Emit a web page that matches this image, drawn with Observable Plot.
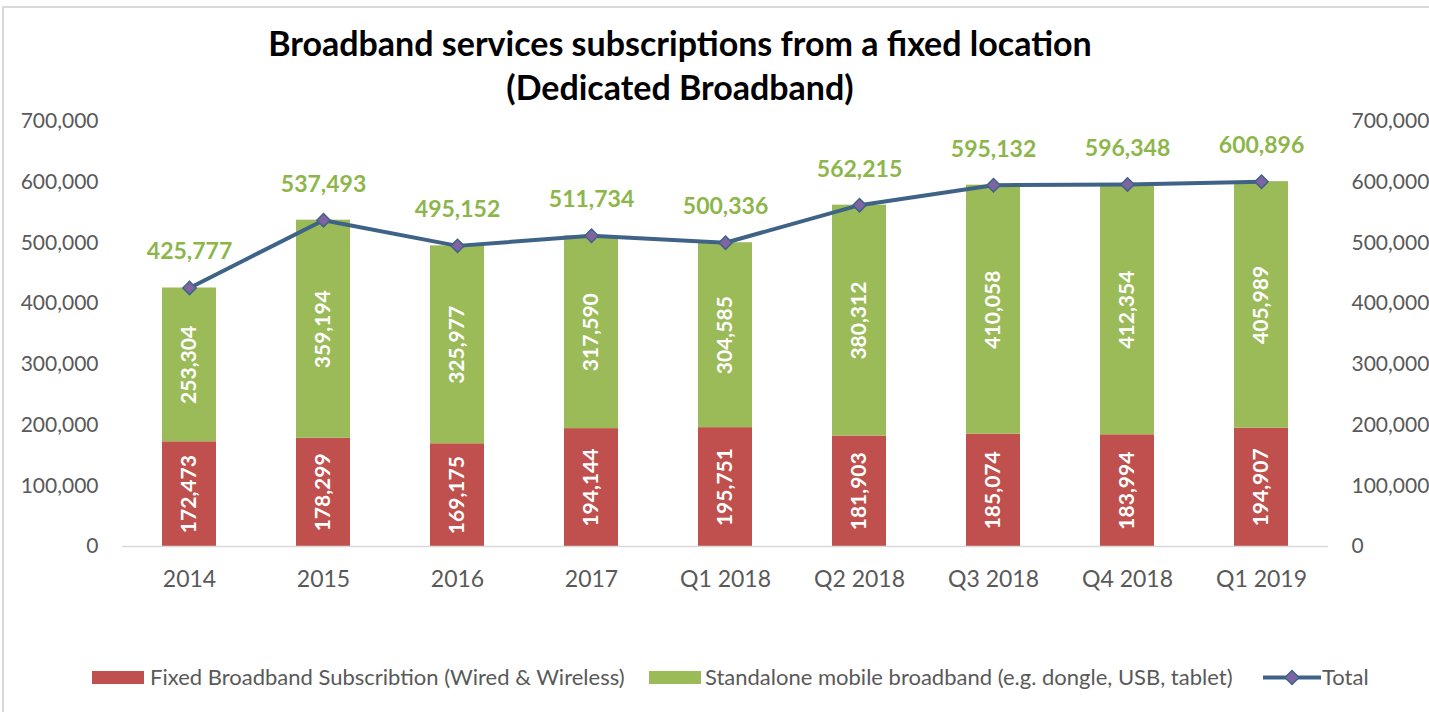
<!DOCTYPE html>
<html>
<head>
<meta charset="utf-8">
<script src="https://cdn.jsdelivr.net/npm/d3@7"></script>
<script src="https://cdn.jsdelivr.net/npm/@observablehq/plot@0.6"></script>
<style>
  html, body { margin: 0; padding: 0; background: #fff; }
  #wrap { position: relative; width: 1429px; height: 712px; overflow: hidden; font-family: Lato, "Open Sans", sans-serif; }
  #frame { position: absolute; left: 2px; top: 6px; width: 1440px; height: 720px; border-left: 2px solid #d9d9d9; border-top: 2px solid #d9d9d9; }
  #title { position: absolute; left: 0; top: 21px; width: 1360px; text-align: center; font-weight: bold; font-size: 34px; line-height: 44px; color: #000; }
  #chart { position: absolute; left: 0; top: 104px; }
  #legend { position: absolute; left: 0; top: 664px; width: 1429px; height: 26px; font-size: 22px; color: #595959; }
  .sw { position: absolute; top: 7px; height: 13px; }
  .lt { position: absolute; top: 0; line-height: 26px; white-space: nowrap; }
</style>
</head>
<body>
<div id="wrap">
  <div id="frame"></div>
  <div id="title">Broadband services subscriptions from a fixed location<br>(Dedicated Broadband)</div>
  <div id="chart"></div>
  <div id="legend"></div>
</div>
<script>
const categories = ["2014", "2015", "2016", "2017", "Q1 2018", "Q2 2018", "Q3 2018", "Q4 2018", "Q1 2019"];
const fixedBroadband = [172473, 178299, 169175, 194144, 195751, 181903, 185074, 183994, 194907];
const mobileBroadband = [253304, 359194, 325977, 317590, 304585, 380312, 410058, 412354, 405989];
const totals = [425777, 537493, 495152, 511734, 500336, 562215, 595132, 596348, 600896];
const seriesNames = ["Fixed Broadband Subscribtion (Wired & Wireless)", "Standalone mobile broadband (e.g. dongle, USB, tablet)", "Total"];
const yTicks = [0, 100000, 200000, 300000, 400000, 500000, 600000, 700000];

const RED = "#C0504D", GREEN = "#9BBB59", LABELGREEN = "#8DB64A", LINE = "#3F6387", MARK = "#8064A2", GREY = "#595959";
const fmt = d3.format(",");

const rows = [];
categories.forEach((c, i) => {
  rows.push({cat: c, series: seriesNames[0], value: fixedBroadband[i]});
  rows.push({cat: c, series: seriesNames[1], value: mobileBroadband[i]});
});
const totalRows = categories.map((c, i) => ({cat: c, total: totals[i]}));

const chart = Plot.plot({
  width: 1429,
  height: 520,
  marginLeft: 122,
  marginRight: 101,
  marginTop: 17,
  marginBottom: 78,
  style: {fontFamily: "Lato, 'Open Sans', sans-serif", background: "transparent", overflow: "visible"},
  x: {domain: categories, paddingInner: 0.6, paddingOuter: 0.3, label: null},
  y: {domain: [0, 700000], label: null},
  color: {domain: seriesNames.slice(0, 2), range: [RED, GREEN]},
  marks: [
    Plot.barY(rows, {x: "cat", y: "value", fill: "series"}),
    Plot.ruleY([0], {stroke: "#d9d9d9", strokeWidth: 1.5}),
    Plot.text(rows, Plot.stackY({x: "cat", y: "value", text: d => fmt(d.value), rotate: -90, fill: "white", fontWeight: "bold", fontSize: 21})),
    Plot.line(totalRows, {x: "cat", y: "total", stroke: LINE, strokeWidth: 4}),
    Plot.dot(totalRows, {x: "cat", y: "total", symbol: "diamond2", r: 6, fill: MARK, stroke: LINE, strokeWidth: 1.5}),
    Plot.text(totalRows, {x: "cat", y: "total", text: d => fmt(d.total), dy: -36, fill: LABELGREEN, fontWeight: "bold", fontSize: 23}),
    Plot.axisY(yTicks, {anchor: "left", tickSize: 0, tickPadding: 24, tickFormat: fmt, fontSize: 21, fill: GREY, label: null}),
    Plot.axisY(yTicks, {anchor: "right", tickSize: 0, tickPadding: 23, tickFormat: fmt, fontSize: 21, fill: GREY, label: null}),
    Plot.axisX({tickSize: 0, tickPadding: 24, fontSize: 23, fill: GREY, label: null})
  ]
});
document.getElementById("chart").appendChild(chart);

// Legend
const legend = document.getElementById("legend");
const items = [
  {name: seriesNames[0], kind: "rect", color: RED, sx: 92, tx: 150},
  {name: seriesNames[1], kind: "rect", color: GREEN, sx: 649, tx: 705},
  {name: seriesNames[2], kind: "line", color: LINE, sx: 1263, tx: 1322}
];
items.forEach(it => {
  if (it.kind === "rect") {
    const s = document.createElement("div");
    s.className = "sw";
    s.style.left = it.sx + "px";
    s.style.width = "52px";
    s.style.background = it.color;
    legend.appendChild(s);
  } else {
    const ns = "http://www.w3.org/2000/svg";
    const svg = document.createElementNS(ns, "svg");
    svg.setAttribute("width", 58); svg.setAttribute("height", 26);
    svg.style.position = "absolute"; svg.style.left = it.sx + "px"; svg.style.top = "0px";
    const l = document.createElementNS(ns, "line");
    l.setAttribute("x1", 0); l.setAttribute("x2", 58); l.setAttribute("y1", 13.5); l.setAttribute("y2", 13.5);
    l.setAttribute("stroke", it.color); l.setAttribute("stroke-width", 4);
    svg.appendChild(l);
    const p = document.createElementNS(ns, "path");
    p.setAttribute("d", "M29,6.5L36,13.5L29,20.5L22,13.5Z");
    p.setAttribute("fill", MARK); p.setAttribute("stroke", it.color); p.setAttribute("stroke-width", 1.5);
    svg.appendChild(p);
    legend.appendChild(svg);
  }
  const t = document.createElement("div");
  t.className = "lt";
  t.style.left = it.tx + "px";
  t.textContent = it.name;
  legend.appendChild(t);
});
</script>
</body>
</html>
